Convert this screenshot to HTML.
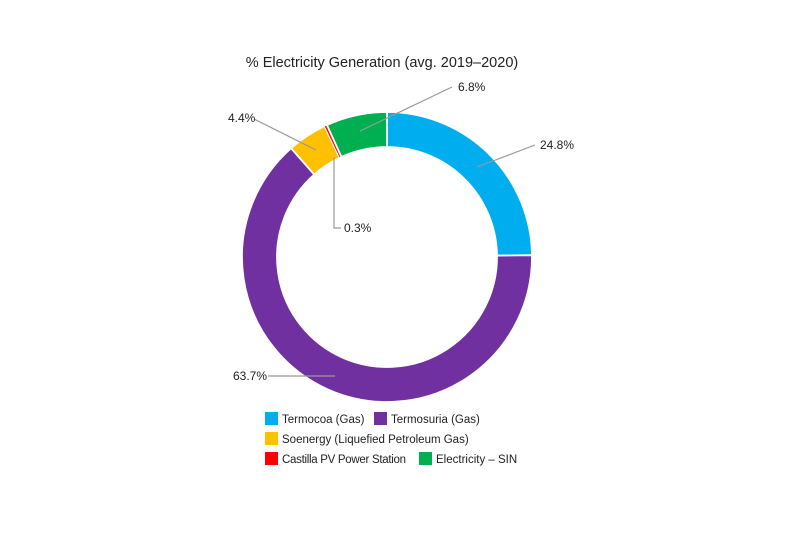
<!DOCTYPE html>
<html><head><meta charset="utf-8"><style>
body{margin:0;background:#fff;font-family:"Liberation Sans",Arial,sans-serif}
</style></head><body>
<svg id="c" width="800" height="533" style="display:block">
<text x="382" y="67" text-anchor="middle" font-size="14.5" fill="#222">% Electricity Generation (avg. 2019–2020)</text>
<g id="slices"></g>
<g id="callouts" stroke="#999" stroke-width="1.2" fill="none"></g>
<g id="labels" font-size="12" fill="#222"></g>
<g id="legend" font-size="11.5" fill="#222"></g>
</svg>
<script>
const categories=["Termocoa (Gas)","Termosuria (Gas)","Soenergy (Liquefied Petroleum Gas)","Castilla PV Power Station","Electricity – SIN"];
const values=[24.8,63.7,4.4,0.3,6.8];
const colors=["#00aeef","#7030a0","#ffc000","#ff0000","#00b050"];
const labelText=["24.8%","63.7%","4.4%","0.3%","6.8%"];
const NS="http://www.w3.org/2000/svg";
const cx=387,cy=257,R=145,r=110;
const total=values.reduce((a,b)=>a+b,0);
function pt(a,rad){return [cx+rad*Math.sin(a),cy-rad*Math.cos(a)];}
const sl=document.getElementById('slices');
let acc=0;
values.forEach((v,i)=>{
 const a0=acc/total*2*Math.PI;acc+=v;const a1=acc/total*2*Math.PI;
 const lg=(a1-a0)>Math.PI?1:0;
 const p0=pt(a0,R),p1=pt(a1,R),q1=pt(a1,r),q0=pt(a0,r);
 const p=document.createElementNS(NS,'path');
 p.setAttribute('d',`M${p0}A${R},${R} 0 ${lg} 1 ${p1}L${q1}A${r},${r} 0 ${lg} 0 ${q0}Z`);
 p.setAttribute('fill',colors[i]);p.setAttribute('stroke','#fff');p.setAttribute('stroke-width',v<1?'0.6':'1.8');
 
 
 sl.appendChild(p);
});
const co=document.getElementById('callouts');
const calloutPaths=["M477,167 L535,145","M268,376 L335,376","M254,119 L316,150","M334,157 L334,228 L341,228","M360,131 L452,87"];
const labelPos=[[540,149],[233,380],[228,122],[344,232],[458,91]];
calloutPaths.forEach((d,i)=>{const p=document.createElementNS(NS,'path');p.setAttribute('d',d);


co.appendChild(p);});
const lb=document.getElementById('labels');
labelText.forEach((t,i)=>{const e=document.createElementNS(NS,'text');e.setAttribute('x',labelPos[i][0]);e.setAttribute('y',labelPos[i][1]);e.textContent=t;


lb.appendChild(e);});
const lg=document.getElementById('legend');
const legPos=[[265,412],[374,412],[265,432],[265,452],[419,452]];
categories.forEach((c,i)=>{
 const g=document.createElementNS(NS,'g');
 
 
 const s=document.createElementNS(NS,'rect');s.setAttribute('x',legPos[i][0]);s.setAttribute('y',legPos[i][1]);s.setAttribute('width',13);s.setAttribute('height',13);s.setAttribute('fill',colors[i]);
 const t=document.createElementNS(NS,'text');t.setAttribute('x',legPos[i][0]+17);t.setAttribute('y',legPos[i][1]+11);t.setAttribute('textLength',i==3?124:null);t.textContent=c;
 if(i!=3)t.removeAttribute('textLength');
 g.appendChild(s);g.appendChild(t);lg.appendChild(g);
});
</script>
</body></html>
